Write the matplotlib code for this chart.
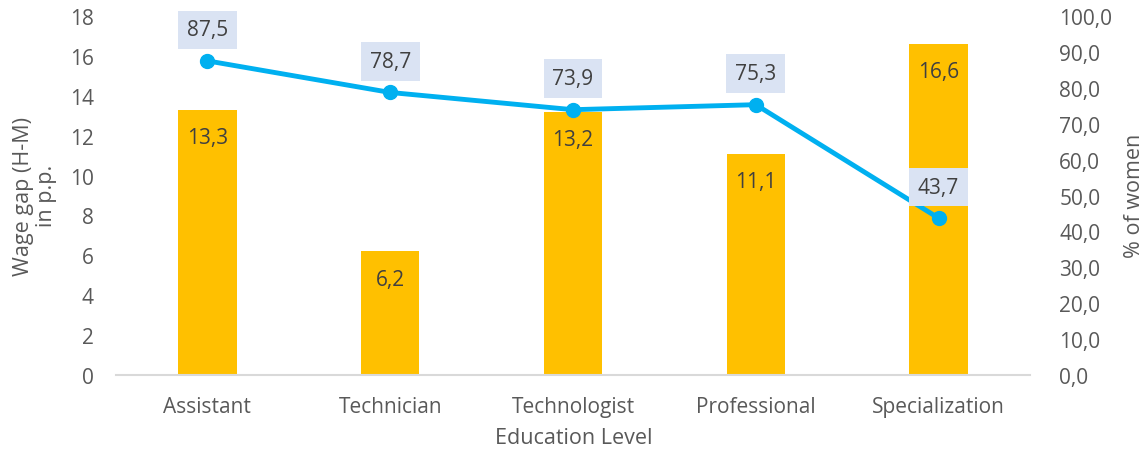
import matplotlib
matplotlib.use("Agg")
from matplotlib import pyplot as plt
from matplotlib.ticker import FuncFormatter, MultipleLocator

levels = ["Assistant", "Technician", "Technologist", "Professional", "Specialization"]
wage_gap = [13.3, 6.2, 13.2, 11.1, 16.6]
pct_women = [87.5, 78.7, 73.9, 75.3, 43.7]

BAR_COLOR = "#FFC000"
LINE_COLOR = "#00B0F0"
LABEL_BOX = "#DAE3F3"
TEXT_COLOR = "#404040"
TICK_COLOR = "#595959"

plt.rcParams["font.family"] = ["Open Sans", "DejaVu Sans"]
plt.rcParams["font.size"] = 15


def comma(value, decimals):
    return f"{value:.{decimals}f}".replace(".", ",")


W, H = 1148, 456
fig = plt.figure(figsize=(W / 100, H / 100), dpi=100)
ax = fig.add_axes([116 / W, 80 / H, 914 / W, 359 / H])
x = range(len(levels))

bars = ax.bar(x, wage_gap, width=0.32, color=BAR_COLOR, zorder=2)
ax.set_ylim(0, 18)
ax.set_xlim(-0.5, len(levels) - 0.5)
ax.yaxis.set_major_locator(MultipleLocator(2))
ax.set_xticks(list(x), levels)
ax.tick_params(length=0, colors=TICK_COLOR, labelsize=15, pad=16)
ax.tick_params(axis="x", pad=15)
for side in ("top", "right", "left"):
    ax.spines[side].set_visible(False)
ax.spines["bottom"].set_color("#D9D9D9")
ax.spines["bottom"].set_linewidth(1.5)

# axis titles placed in figure pixels
fig.text(35 / W, 1 - 196 / H, "Wage gap (H-M)\nin p.p.", rotation=90,
         ha="center", va="center", color=TICK_COLOR, fontsize=15.5,
         linespacing=1.15)
fig.text(1135 / W, 1 - 196 / H, "% of women", rotation=90,
         ha="center", va="center", color=TICK_COLOR, fontsize=15.5)
fig.text(574 / W, 1 - 439 / H, "Education Level",
         ha="center", va="center", color=TICK_COLOR, fontsize=15.5)

for rect, v in zip(bars, wage_gap):
    ax.annotate(comma(v, 1), (rect.get_x() + rect.get_width() / 2, v),
                xytext=(0, -28), textcoords="offset pixels",
                ha="center", va="center", color=TEXT_COLOR, fontsize=15, zorder=3)

ax2 = ax.twinx()
ax2.plot(list(x), pct_women, color=LINE_COLOR, linewidth=3.5, marker="o",
         markersize=10, zorder=4)
ax2.set_ylim(0, 100)
ax2.yaxis.set_major_locator(MultipleLocator(10))
ax2.yaxis.set_major_formatter(FuncFormatter(lambda v, _: comma(v, 1)))
ax2.tick_params(length=0, colors=TICK_COLOR, labelsize=15, pad=21)
for side in ("top", "right", "left", "bottom"):
    ax2.spines[side].set_visible(False)

for xi, v in zip(x, pct_women):
    ax2.annotate(comma(v, 1), (xi, v), xytext=(0, 31), textcoords="offset pixels",
                 ha="center", va="center", color=TEXT_COLOR, fontsize=15,
                 bbox=dict(boxstyle="square,pad=0.42", fc=LABEL_BOX, ec="none"),
                 zorder=5)

fig.savefig("out.png", dpi=100)
